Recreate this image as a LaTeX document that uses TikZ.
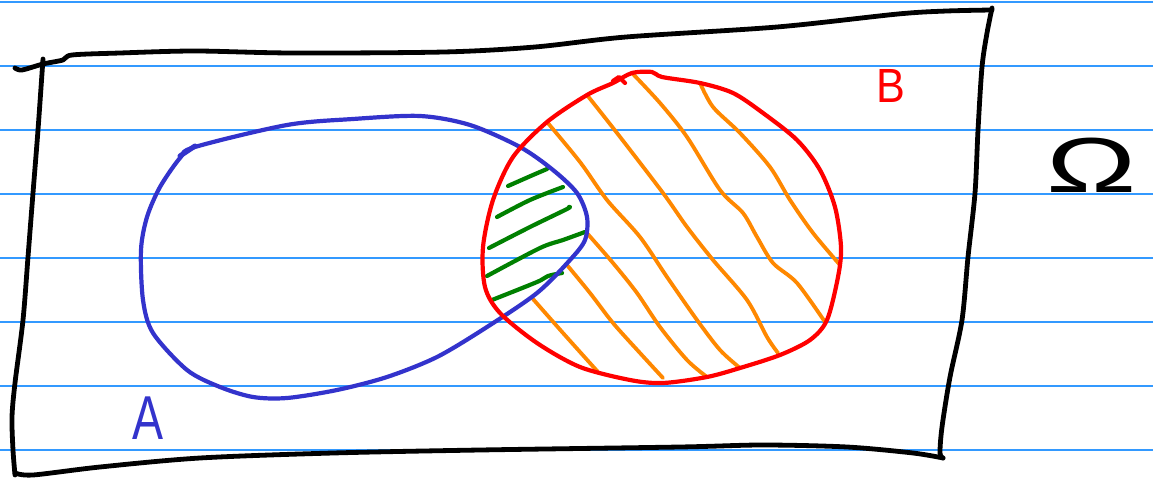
\documentclass[tikz,border=0pt]{standalone}
\usepackage{fontspec}
\newfontfamily\handfont{Liberation Sans}
\definecolor{rulecol}{RGB}{51,153,255}
\definecolor{setAcol}{RGB}{51,51,204}
\definecolor{setBcol}{RGB}{255,0,0}
\definecolor{hatchBcol}{RGB}{255,136,0}
\definecolor{hatchABcol}{RGB}{0,128,0}
\begin{document}
\begin{tikzpicture}[x=1pt,y=-1pt,line cap=round,line join=round,
  ruled/.style={draw=rulecol,line width=1.3pt},
  frameline/.style={draw=black,line width=4.8pt},
  setAline/.style={draw=setAcol,line width=4.2pt},
  setBline/.style={draw=setBcol,line width=4.2pt},
  hatchB/.style={draw=hatchBcol,line width=3.8pt},
  hatchAB/.style={draw=hatchABcol,line width=4.2pt},
  lbl/.style={inner sep=0pt,font=\handfont}]
\useasboundingbox (0,0) rectangle (1153,478);
\fill[white] (0,0) rectangle (1153,478);
% ruled paper
\foreach \y in {2,66,130,194,258,322,386,450}
  \draw[ruled] (0,\y) -- (1153,\y);
% frame Omega
\draw[frameline] plot[smooth,tension=0.5] coordinates {(15,68) (22,70) (43,64) (63,60) (72,55) (120,53) (195,51) (292,53) (444,52) (535,47) (626,37) (777,27) (898,14) (947,11) (992,10)};
\draw[frameline] plot[smooth,tension=0.5] coordinates {(992,8) (987,33) (982,67) (978,130) (975,193) (968,257) (962,320) (950,377) (942,427) (940,453) (943,458)};
\draw[frameline] plot[smooth,tension=0.5] coordinates {(943,458) (913,453) (847,447) (763,445) (680,447) (480,450) (333,453) (200,458) (100,467) (33,475) (15,473)};
\draw[frameline] plot[smooth,tension=0.5] coordinates {(43,59) (38,130) (33,193) (28,257) (23,320) (15,383) (12,417) (13,450) (15,475)};
% orange hatching of B minus A
\draw[hatchB] plot[smooth] coordinates {(547,122) (580,162) (607,200) (640,237) (667,277) (697,320) (720,350) (740,368)};
\draw[hatchB] plot[smooth] coordinates {(587,95) (617,133) (663,193) (687,227) (713,260) (747,300) (767,337) (778,353)};
\draw[hatchB] plot[smooth] coordinates {(632,73) (660,103) (687,137) (720,190) (743,213) (757,237) (773,263) (797,283) (825,322)};
\draw[hatchB] plot[smooth] coordinates {(700,83) (713,107) (740,133) (770,167) (790,200) (813,233) (840,265)};
\draw[hatchB] plot[smooth] coordinates {(586,232) (613,263) (637,293) (660,327) (687,360) (707,377)};
\draw[hatchB] plot[smooth] coordinates {(567,265) (590,293) (613,323) (640,353) (663,378)};
\draw[hatchB] plot[smooth] coordinates {(533,299) (563,333) (598,372)};
% green hatching of A and B
\draw[hatchAB] plot[smooth] coordinates {(508,186) (533,175) (547,169)};
\draw[hatchAB] plot[smooth] coordinates {(497,217) (530,200) (563,187)};
\draw[hatchAB] plot[smooth] coordinates {(489,248) (530,227) (567,209) (569,207)};
\draw[hatchAB] plot[smooth] coordinates {(487,276) (540,248) (563,240) (585,232)};
\draw[hatchAB] plot[smooth] coordinates {(492,300) (537,282) (548,276) (562,273)};
% set A
\draw[setAline] plot[smooth cycle] coordinates {(195,147) (287,125) (353,119) (420,116) (470,125) (520,147) (553,170) (577,193) (587,217) (585,240) (570,260) (537,293) (487,327) (437,357) (387,377) (337,390) (287,398) (253,397) (220,387) (187,370) (153,333) (143,300) (141,250) (147,217) (160,187) (180,158)};
\draw[setAcol,line width=5pt] (180,156) -- (195,146);
% set B
\draw[setBline] plot[smooth cycle] coordinates {(632,73) (652,72) (662,77) (700,83) (733,93) (763,113) (797,140) (820,170) (835,207) (841,247) (838,277) (827,320) (810,340) (780,355) (740,368) (707,377) (663,383) (630,380) (580,367) (537,343) (500,313) (485,287) (483,247) (493,200) (513,157) (547,122) (587,95) (613,83)};
\draw[setBline] (613,81) -- (619,77) -- (625,83);
% labels
\node[lbl,text=setAcol,xscale=0.75,font=\handfont\fontsize{62}{62}\selectfont] (labelA) at (148,418) {A};
\node[lbl,text=setBcol,xscale=0.9,font=\handfont\fontsize{48}{48}\selectfont] (labelB) at (891,86) {B};
\node[lbl,text=black,xscale=1.55,font=\handfont\fontsize{78}{78}\selectfont] (labelOmega) at (1092,165) {Ω};
\end{tikzpicture}
\end{document}
